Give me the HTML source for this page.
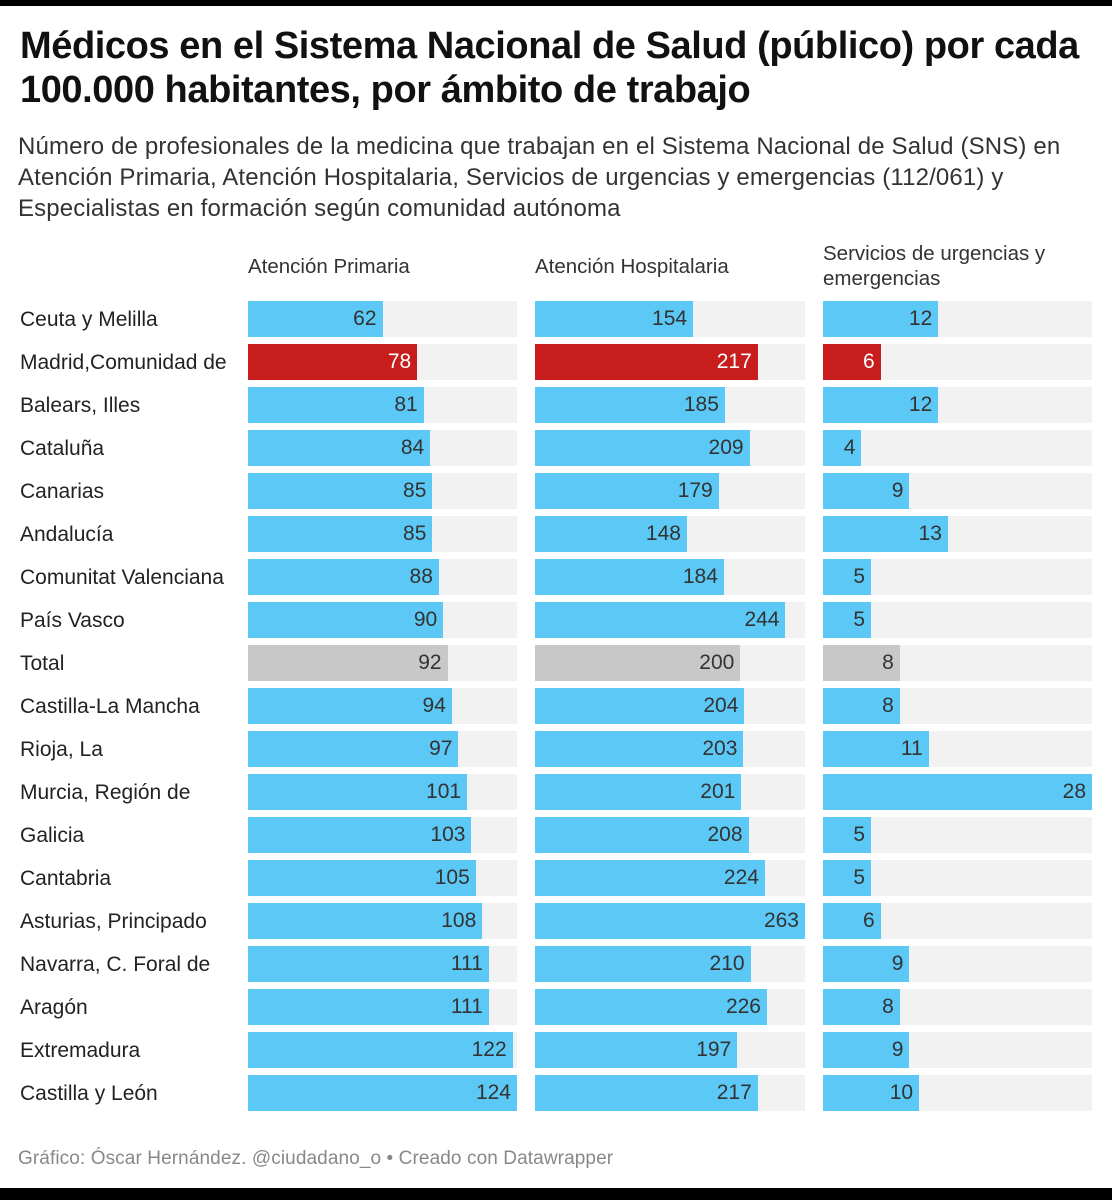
<!DOCTYPE html>
<html><head><meta charset="utf-8"><style>
body{margin:0;width:1112px;height:1200px;background:#fff;font-family:"Liberation Sans",sans-serif;position:relative;overflow:hidden;color:#222}
.abs{position:absolute;white-space:nowrap}
.title{left:20px;font-weight:bold;font-size:38px;letter-spacing:-0.42px;color:#111}
.sub{left:18px;font-size:24px;color:#333;letter-spacing:0.15px}
.hdr{font-size:20.5px;color:#333;line-height:25px}
.lab{left:20px;font-size:21px;color:#222}
.track{background:#f2f2f2;height:36px}
.bar{height:36px;position:absolute;left:0;top:0}
.val{position:absolute;top:0;line-height:36px;font-size:21px;color:#333;text-align:right}
</style></head><body>
<div class="abs" style="left:0;top:0;width:1112px;height:6px;background:#000"></div>
<div class="abs title" style="top:25px">Médicos en el Sistema Nacional de Salud (público) por cada</div>
<div class="abs title" style="top:69px">100.000 habitantes, por ámbito de trabajo</div>
<div class="abs sub" style="top:133px">Número de profesionales de la medicina que trabajan en el Sistema Nacional de Salud (SNS) en</div>
<div class="abs sub" style="top:164px">Atención Primaria, Atención Hospitalaria, Servicios de urgencias y emergencias (112/061) y</div>
<div class="abs sub" style="top:195px">Especialistas en formación según comunidad autónoma</div>
<div class="abs hdr" style="left:248px;top:254px">Atención Primaria</div>
<div class="abs hdr" style="left:535px;top:254px">Atención Hospitalaria</div>
<div class="abs hdr" style="left:823px;top:241px">Servicios de urgencias y<br>emergencias</div>
<div id="chart"></div>
<div class="abs" style="left:18px;top:1148px;font-size:19px;letter-spacing:0.1px;color:#888">Gráfico: Óscar Hernández. @ciudadano_o • Creado con Datawrapper</div>
<div class="abs" style="left:0;top:1188px;width:1112px;height:12px;background:#000"></div>
<script>
const categories=["Ceuta y Melilla","Madrid,Comunidad de","Balears, Illes","Cataluña","Canarias","Andalucía","Comunitat Valenciana","País Vasco","Total","Castilla-La Mancha","Rioja, La","Murcia, Región de","Galicia","Cantabria","Asturias, Principado","Navarra, C. Foral de","Aragón","Extremadura","Castilla y León"];
const primaria=[62,78,81,84,85,85,88,90,92,94,97,101,103,105,108,111,111,122,124];
const hospitalaria=[154,217,185,209,179,148,184,244,200,204,203,201,208,224,263,210,226,197,217];
const urgencias=[12,6,12,4,9,13,5,5,8,8,11,28,5,5,6,9,8,9,10];
const cols=[{x:248,w:269,data:primaria,name:'primaria'},{x:535,w:270,data:hospitalaria,name:'hospitalaria'},{x:823,w:269,data:urgencias,name:'urgencias'}];
const chart=document.getElementById('chart');
categories.forEach((c,i)=>{
  const y=301+i*43;
  const l=document.createElement('div');
  l.className='abs lab';l.style.top=(y+7)+'px';l.textContent=c;
  
  
  chart.appendChild(l);
  cols.forEach(col=>{
    const max=Math.max(...col.data);
    const t=document.createElement('div');
    t.className='abs track';t.style.left=col.x+'px';t.style.top=y+'px';t.style.width=col.w+'px';
    
    
    const v=col.data[i];const bw=v/max*col.w;
    const color=c.startsWith('Madrid')?'#c71e1d':(c==='Total'?'#c8c8c8':'#5bc8f5');
    const b=document.createElement('div');
    b.className='bar';b.style.width=bw+'px';b.style.background=color;
    
    
    t.appendChild(b);
    const s=document.createElement('div');
    s.className='val';s.style.left='0';s.style.width=(bw-6)+'px';s.textContent=v;
    if(color==='#c71e1d')s.style.color='#fff';
    
    
    t.appendChild(s);
    chart.appendChild(t);
  });
});
</script>
</body></html>
